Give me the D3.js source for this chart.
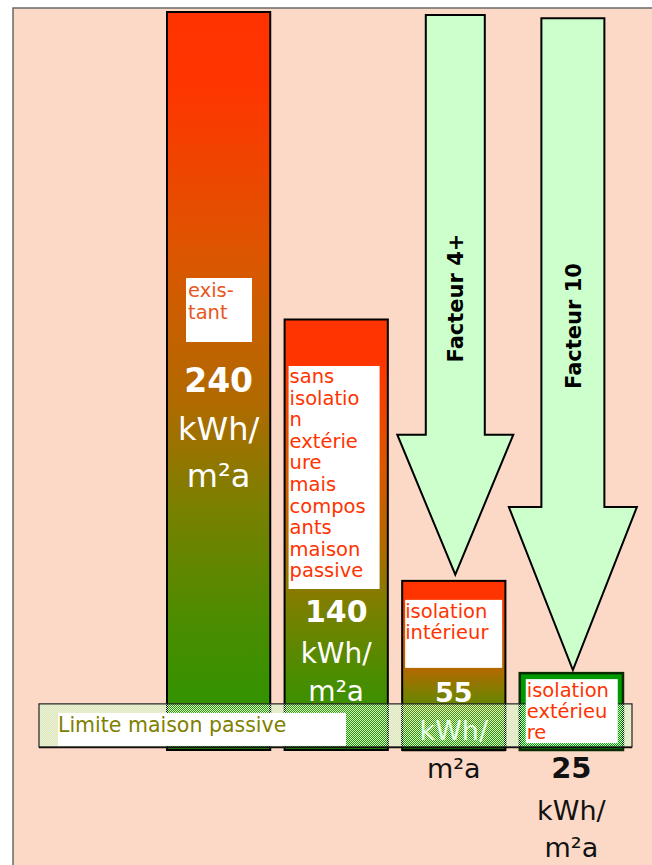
<!DOCTYPE html>
<html>
<head>
<meta charset="utf-8">
<script src="https://cdn.jsdelivr.net/npm/d3@7"></script>
<style>
  html, body { margin: 0; padding: 0; background: #ffffff; }
  svg { display: block; }
</style>
</head>
<body>
<script>
// ---------- DATA ----------
const categories = ["existant", "sans isolation extérieure mais composants maison passive", "isolation intérieur", "isolation extérieure"];
const values = [240, 140, 55, 25];
const labelLines = [
  ["exis-", "tant"],
  ["sans", "isolatio", "n", "extérie", "ure", "mais", "compos", "ants", "maison", "passive"],
  ["isolation", "intérieur"],
  ["isolation", "extérieu", "re"]
];
const unitLines = ["kWh/", "m²a"];
const arrowLabels = ["Facteur 4+", "Facteur 10"];
const arrowBars = [2, 3];
const arrowFrom = [239, 238];
const arrowTo = [57, 26];
const passiveLimit = 15;
const limitLabel = "Limite maison passive";

// ---------- LAYOUT / STYLE ----------
const W = 652, H = 865;
const peach = "#FCD9C6";
const font = "'DejaVu Sans', Verdana, sans-serif";

const svg = d3.select("body").append("svg").attr("width", W).attr("height", H);
const defs = svg.append("defs");

const grad = defs.append("linearGradient").attr("id", "barGrad")
  .attr("x1", 0).attr("y1", 0).attr("x2", 0).attr("y2", 1);
[[0, "#FF3300"], [0.1, "#FF3500"], [0.33, "#DC5600"], [0.53, "#B06A00"],
 [0.67, "#7A8000"], [0.82, "#4D8C00"], [1, "#259600"]]
  .forEach(([o, c]) => grad.append("stop").attr("offset", o).attr("stop-color", c));

const pat = defs.append("pattern").attr("id", "checker")
  .attr("patternUnits", "userSpaceOnUse").attr("width", 2).attr("height", 2);
pat.append("rect").attr("x", 0).attr("y", 0).attr("width", 1).attr("height", 1).attr("fill", "#CCFFCC");
pat.append("rect").attr("x", 1).attr("y", 1).attr("width", 1).attr("height", 1).attr("fill", "#CCFFCC");

// frame
svg.append("rect").attr("x", 13).attr("y", 8).attr("width", W).attr("height", H)
  .attr("fill", peach).attr("stroke", "#6a6a6a").attr("stroke-width", 1.5);

// scales
const x = d3.scaleBand().domain(categories).range([167, 623]).paddingInner(0.122).paddingOuter(0);
const y = d3.scaleLinear().domain([0, 240]).range([750, 12]);

// per-bar text layout (offsets relative to bar top)
const layout = [
  { bx: 19, bw: 66, by: 266, bh: 64, tx: 21, l0: 285, ls: 21.5, lc: "#E8561C",
    vy: 380, vs: 33, uy: [428, 475], us: 32, vc: "#ffffff", uc: ["#ffffff", "#ffffff"] },
  { bx: 4, bw: 91, by: 46.5, bh: 223, tx: 5, l0: 63.5, ls: 21.6, lc: "#FF3300",
    vy: 302, vs: 30, uy: [343, 381], us: 28, vc: "#ffffff", uc: ["#ffffff", "#ffffff"] },
  { bx: 3, bw: 97, by: 19, bh: 68, tx: 3, l0: 37, ls: 21, lc: "#FF3300",
    vy: 121, vs: 27, uy: [159, 197], us: 27, vc: "#ffffff", uc: ["#ffffff", "#111111"] },
  { bx: 6, bw: 92, by: 6, bh: 64, tx: 7, l0: 24, ls: 21, lc: "#FF3300",
    vy: 105, vs: 29, uy: [147, 184], us: 27, vc: "#111111", uc: ["#111111", "#111111"] }
];

const data = categories.map((c, i) => ({ c, v: values[i], lines: labelLines[i], L: layout[i], i }));

// arrows (behind bars)
const arrowG = svg.append("g");
arrowBars.forEach((bi, k) => {
  const cx = x(categories[bi]) + x.bandwidth() / 2 + 1.5;
  const top = y(arrowFrom[k]);
  const tip = y(arrowTo[k]);
  const headLen = k === 0 ? 140 : 163;
  const sw = k === 0 ? 29.5 : 31.5;
  const hw = k === 0 ? 58 : 64;
  const hy = tip - headLen;
  const pts = [[cx - sw, top], [cx + sw, top], [cx + sw, hy], [cx + hw, hy], [cx, tip],
               [cx - hw, hy], [cx - sw, hy]];
  arrowG.append("path").attr("d", d3.line()(pts) + "Z")
    .attr("fill", "#CCFFCC").attr("stroke", "#000").attr("stroke-width", 2)
    .attr("stroke-linejoin", "miter");
  arrowG.append("text")
    .attr("transform", `translate(${cx + 1},${k === 0 ? 298 : 326}) rotate(-90)`)
    .attr("text-anchor", "middle").attr("dominant-baseline", "central")
    .attr("font-family", font).attr("font-weight", "bold").attr("font-size", 21)
    .attr("fill", "#000").text(arrowLabels[k]);
});

// bars
const barG = svg.append("g");
barG.selectAll("rect.bar").data(data).join("rect")
  .attr("class", "bar")
  .attr("x", d => x(d.c)).attr("y", d => y(d.v))
  .attr("width", x.bandwidth()).attr("height", d => y(0) - y(d.v))
  .attr("fill", d => d.i === 3 ? "#009900" : "url(#barGrad)")
  .attr("stroke", d => d.i === 3 ? "#0b2a00" : "#000")
  .attr("stroke-width", d => d.i === 3 ? 2.5 : 2);

// value and unit texts (under band)
data.forEach(d => {
  const cx = x(d.c) + x.bandwidth() / 2;
  const top = y(d.v);
  const L = d.L;
  barG.append("text").attr("x", cx).attr("y", top + L.vy)
    .attr("text-anchor", "middle").attr("font-family", font).attr("font-weight", "bold")
    .attr("font-size", L.vs).attr("fill", L.vc).text(d.v);
  unitLines.forEach((u, j) => {
    barG.append("text").attr("x", cx).attr("y", top + L.uy[j])
      .attr("text-anchor", "middle").attr("font-family", font)
      .attr("font-size", L.us).attr("fill", L.uc[j]).text(u);
  });
});

// label boxes
function drawLabel(g, d) {
  const L = d.L, bx = x(d.c), top = y(d.v);
  g.append("rect").attr("x", bx + L.bx).attr("y", top + L.by)
    .attr("width", L.bw).attr("height", L.bh).attr("fill", "#ffffff");
  d.lines.forEach((t, j) => {
    g.append("text").attr("x", bx + L.tx).attr("y", top + L.l0 + j * L.ls)
      .attr("font-family", font).attr("font-size", 19.5).attr("fill", L.lc).text(t);
  });
}
data.filter(d => d.i < 3).forEach(d => drawLabel(barG, d));

// passive-house band
const bandG = svg.append("g");
bandG.append("rect").attr("x", 39).attr("y", y(passiveLimit))
  .attr("width", 593).attr("height", y(0) - 3 - y(passiveLimit))
  .attr("fill", "url(#checker)").attr("stroke", "#222").attr("stroke-width", 1.2);
bandG.append("line").attr("x1", 39).attr("x2", 632).attr("y1", y(0) - 2.5).attr("y2", y(0) - 2.5)
  .attr("stroke", "#111").attr("stroke-width", 1.6);
bandG.append("rect").attr("x", 58).attr("y", y(passiveLimit) + 9)
  .attr("width", 288).attr("height", 33).attr("fill", "#ffffff");
bandG.append("text").attr("x", 58).attr("y", y(passiveLimit) + 28.5)
  .attr("font-family", font).attr("font-size", 20.5).attr("fill", "#808000").text(limitLabel);

// bar 3 bottom edge visible below band
bandG.append("line").attr("x1", x(categories[2])).attr("x2", x(categories[2]) + x.bandwidth())
  .attr("y1", y(0)).attr("y2", y(0)).attr("stroke", "#000").attr("stroke-width", 2.5);

// last bar label drawn on top of band
data.filter(d => d.i === 3).forEach(d => drawLabel(bandG, d));
</script>
</body>
</html>
